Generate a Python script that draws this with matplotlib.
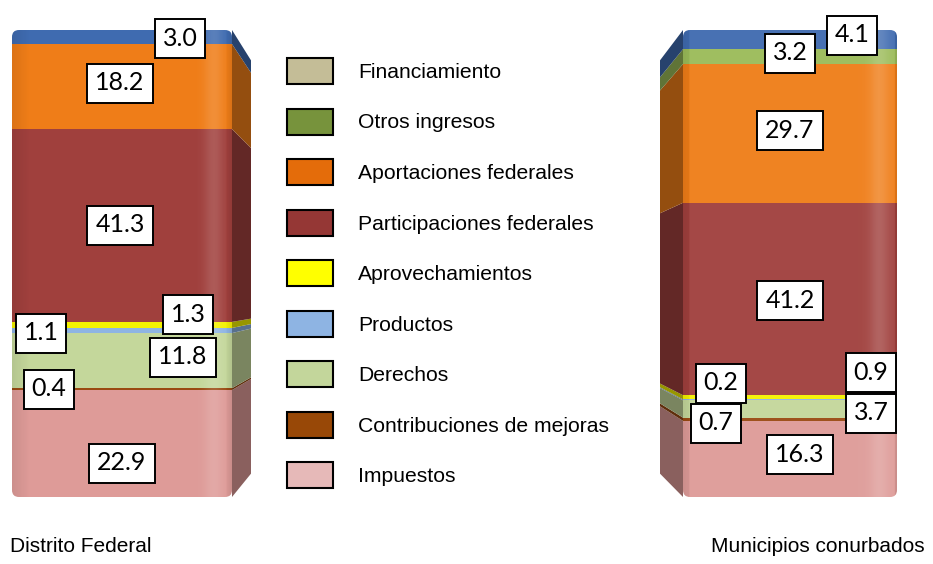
import matplotlib
matplotlib.use("Agg")
import matplotlib.pyplot as plt
import numpy as np
from matplotlib.patches import FancyBboxPatch, Patch
from matplotlib.colors import to_rgb

# income structure, percent of total, stacked bottom -> top
categories = ["Impuestos", "Contribuciones de mejoras", "Derechos", "Productos",
              "Aprovechamientos", "Participaciones federales",
              "Aportaciones federales", "Otros ingresos", "Financiamiento"]
distrito_federal = [22.9, 0.4, 11.8, 1.1, 1.3, 41.3, 18.2, 0.0, 3.0]
municipios = [16.3, 0.7, 3.7, 0.2, 0.9, 41.2, 29.7, 3.2, 4.1]
group_names = ["Distrito Federal", "Municipios conurbados"]

legend_colors = ["#E6B9B8", "#984807", "#C3D69B", "#8EB4E3", "#FFFF00",
                 "#953735", "#E46C0A", "#77933C", "#C4BD97"]
bar_colors = ["#DE9B98", "#9A4A12", "#C4D79B", "#8EB4E3", "#F4F200",
              "#A0403D", "#EF7D18", "#9BBB59", "#3F6BB0"]

W, H = 933, 564
PX = 100 / 467.0          # percent per pixel on the y axis
BASE = 497                # pixel row of the bar bottoms

fig = plt.figure(figsize=(W / 100, H / 100), dpi=100)
ax = fig.add_axes([0, (H - BASE) / H, 1, 467 / H])
ax.set_xlim(0, W)
ax.set_ylim(0, 100)
ax.axis("off")

# bar geometry: centre, front width, side depth (negative = side on the left)
bars = [(122, 220, 19), (790, 214, -23)]
series = [distrito_federal, municipios]


def back_y(y):
    return 5 + 0.885 * y


def py(ypx):
    return (BASE - ypx) * PX


for (xc, w, depth), vals, tint in zip(bars, series, [0.0, 0.05]):
    x0, x1 = xc - w / 2, xc + w / 2
    total = sum(vals)
    clip = FancyBboxPatch((x0, 0), w, total,
                          boxstyle="round,pad=0,rounding_size=7",
                          mutation_aspect=PX, transform=ax.transData,
                          fc="none", ec="none")
    ax.add_patch(clip)
    bottoms = np.concatenate([[0], np.cumsum(vals)[:-1]])
    rects = ax.bar(xc, vals, width=w, bottom=bottoms, color=bar_colors,
                   edgecolor="none", zorder=2)
    for r in rects:
        r.set_clip_path(clip)

    # side face of the 3D column
    xe = x1 if depth > 0 else x0
    for b, v, c in zip(bottoms, vals, bar_colors):
        if v <= 0:
            continue
        shade = tuple(ch * 0.62 for ch in to_rgb(c))
        ax.fill([xe, xe + depth, xe + depth, xe],
                [b, back_y(b), back_y(b + v), b + v],
                color=shade, lw=0, zorder=1)

    # soft lighting across the front face
    f = np.linspace(0, 1, 200)
    light = np.zeros((1, 200, 4))
    dark = np.clip(0.08 - f * 1.0, 0, None) + np.clip((f - 0.97) * 3, 0, None)
    hi = 0.14 * np.exp(-((f - 0.92) / 0.045) ** 2) + tint
    light[0, :, :3] = np.where(dark[:, None] > hi[:, None], 0.0, 1.0)
    light[0, :, 3] = np.maximum(dark, hi)
    im = ax.imshow(light, extent=[x0, x1, 0, total], aspect="auto",
                   interpolation="bilinear", zorder=3)
    im.set_clip_path(clip)

ax.set_xlim(0, W)
ax.set_ylim(0, 100)

# value labels in boxed text
label_pos = [
    [(122, 463), (49, 389), (183, 357), (41, 333), (188, 314),
     (120, 225), (120, 83), None, (180, 38)],
    [(800, 454), (716, 423), (871, 413), (721, 383), (871, 372),
     (790, 300), (790, 130), (790, 53), (852, 35)],
]
for vals, positions in zip(series, label_pos):
    for v, pos in zip(vals, positions):
        if pos is None:
            continue
        ax.text(pos[0], py(pos[1]), f"{v:.1f}", ha="center", va="center",
                fontsize=18, family=["Lato", "DejaVu Sans"], zorder=5,
                bbox=dict(boxstyle="square,pad=0.32", fc="white", ec="black",
                          lw=1.4))

handles = [Patch(facecolor=c, edgecolor="black", lw=1.5)
           for c in legend_colors[::-1]]
ax.legend(handles, categories[::-1], loc="upper left",
          bbox_to_anchor=(287 / W, 1 - 58 / H), bbox_transform=fig.transFigure,
          frameon=False, prop={"family": "Liberation Sans", "size": 15.2},
          handlelength=2.17, handleheight=1.52, handletextpad=1.2,
          labelspacing=1.16, borderpad=0, borderaxespad=0)

fig.text(10 / W, 1 - 547 / H, group_names[0], ha="left", va="center",
         fontsize=15, family="Liberation Sans")
fig.text(925 / W, 1 - 547 / H, group_names[1], ha="right", va="center",
         fontsize=15, family="Liberation Sans")

fig.savefig("out.png", dpi=100)
